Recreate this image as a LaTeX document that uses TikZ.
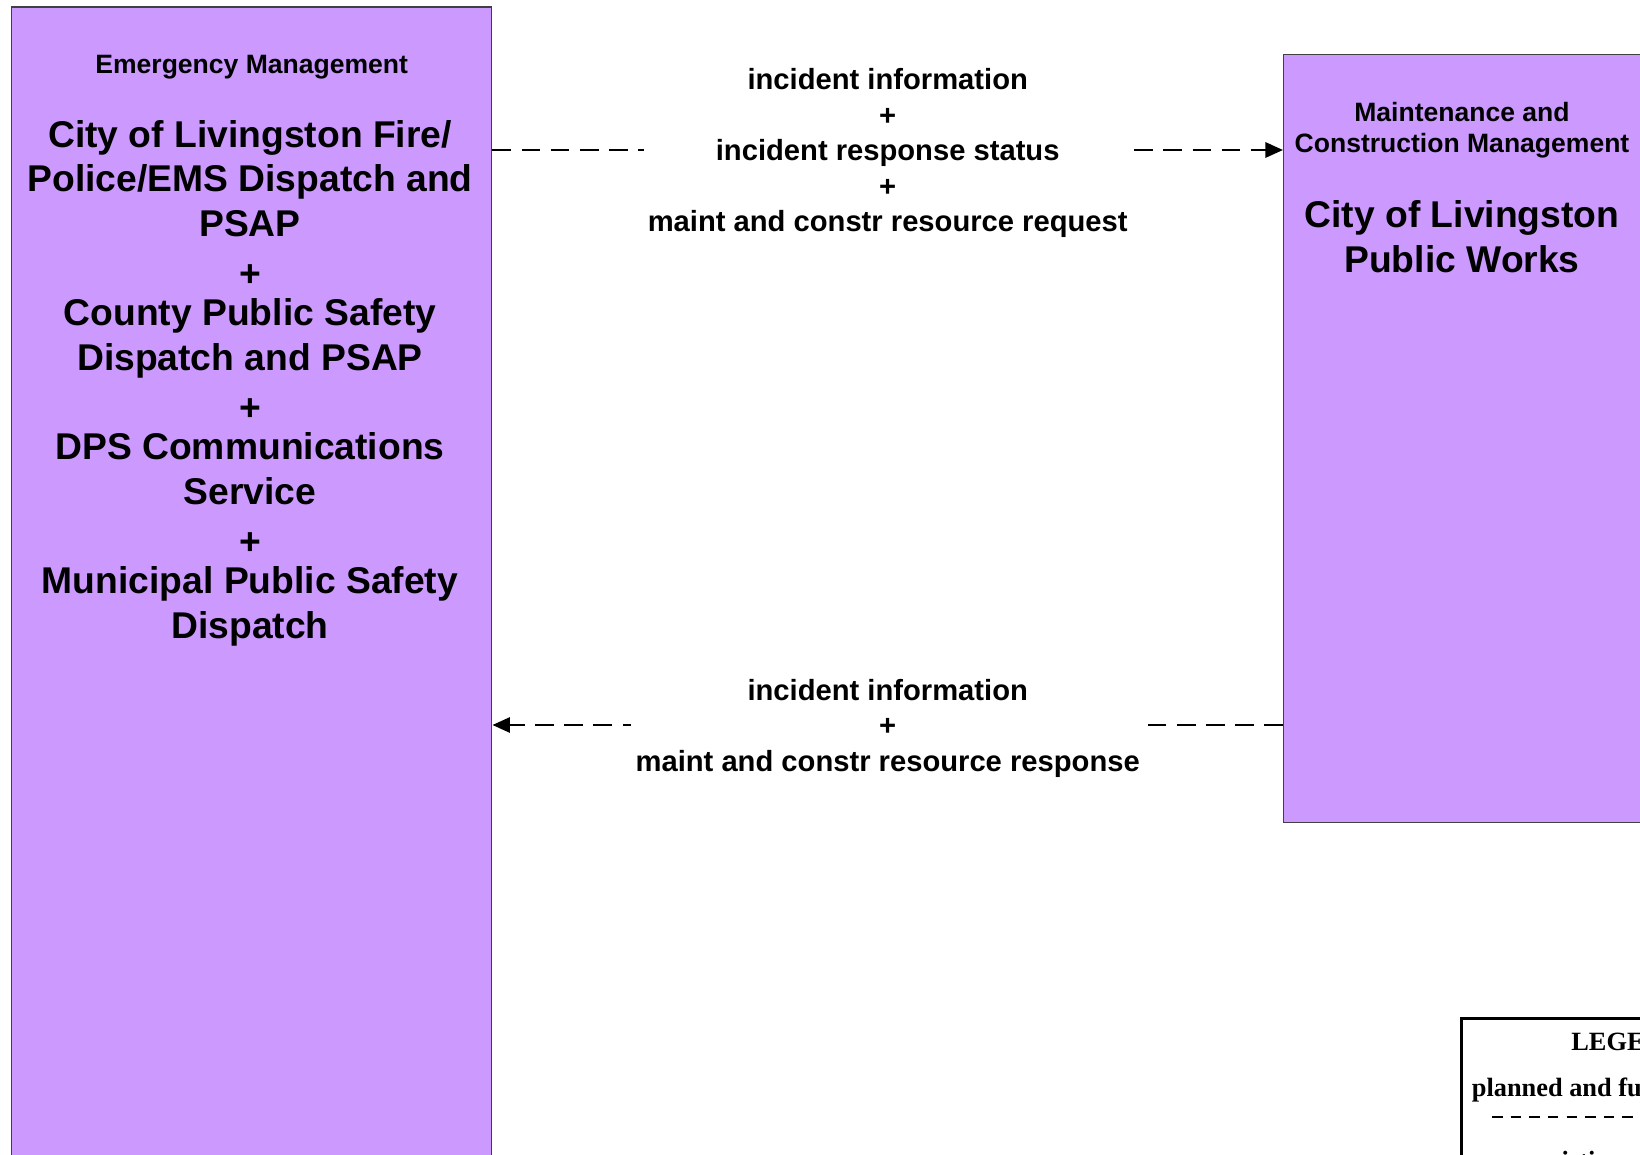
\documentclass[tikz,border=0pt]{standalone}
\usepackage{fontspec}
\setmainfont{Liberation Sans}
\newfontfamily\legendfont{Liberation Serif}
\usetikzlibrary{arrows.meta, positioning}
\definecolor{boxpurple}{RGB}{204,153,255}

\begin{document}
\begin{tikzpicture}[
  sysbox/.style={draw=black!75, line width=0.4pt, fill=boxpurple,
                 anchor=north west, inner sep=0pt},
  cat/.style={font=\fontsize{7.55}{8.8}\selectfont\bfseries, align=center, inner sep=0pt},
  sysname/.style={font=\fontsize{10.6}{12.7}\selectfont\bfseries, align=center, inner sep=0pt},
  flowlbl/.style={font=\fontsize{8.3}{10.1}\selectfont\bfseries, align=center,
                  fill=white, inner xsep=1.2pt, inner ysep=0pt, yshift=-0.03cm},
  flow/.style={-{Triangle[length=5pt,width=4.3pt]}, dash pattern=on 5.3pt off 3pt,
               line width=0.75pt},
  legtxt/.style={font=\legendfont\bfseries\fontsize{7.5}{8.8}\selectfont, inner sep=0pt},
]
\useasboundingbox (0,0) rectangle (16.40,-11.55);
\clip (0,0) rectangle (16.40,-11.55);

% Emergency management box (left)
\node[sysbox, minimum width=4.80cm, minimum height=12.5cm] (em) at (0.11,-0.065) {};
\node[cat] (em_cat) at ([yshift=-0.605cm]em.north) {Emergency Management};
\node[sysname] (em_name) at (2.50,-3.83)
  {City of Livingston Fire/\\Police/EMS Dispatch and\\PSAP\\[1.5pt]+\\[-1.5pt]County Public Safety\\
   Dispatch and PSAP\\[1.5pt]+\\[-1.5pt]DPS Communications\\Service\\[1.5pt]+\\[-1.5pt]Municipal Public Safety\\Dispatch};

% Maintenance and construction box (right)
\node[sysbox, minimum width=3.60cm, minimum height=7.68cm] (mcm) at (12.83,-0.54) {};
\node[cat] (mcm_cat) at (14.62,-1.305) {Maintenance and\\Construction Management};
\node[sysname] (mcm_name) at (14.62,-2.37) {City of Livingston\\Public Works};

% Flows
\coordinate (req_y) at (0,-1.50);
\coordinate (rsp_y) at (0,-7.25);
\draw[flow] (em.east |- req_y) -- node[flowlbl]
  {incident information\\+\\incident response status\\+\\maint and constr resource request}
  (mcm.west |- req_y);
\draw[flow] (mcm.west |- rsp_y) -- node[flowlbl]
  {incident information\\+\\maint and constr resource response}
  (em.east |- rsp_y);

% Legend
\node[draw=black, line width=0.75pt, fill=white, anchor=north west,
      minimum width=3.5cm, minimum height=3cm] (legend) at (14.60,-10.17) {};
\node[legtxt] (leg_title) at (16.27,-10.42) {LEGEND};
\node[legtxt] (leg_plan) at (15.80,-10.90) {planned and future};
\coordinate (plan_a) at (14.92,-11.17);
\coordinate (plan_b) at (17.40,-11.17);
\draw[dash pattern=on 3pt off 2.3pt, line width=0.8pt] (plan_a) -- (plan_b);
\node[legtxt] (leg_exist) at (15.80,-11.63) {existing};

\end{tikzpicture}
\end{document}
